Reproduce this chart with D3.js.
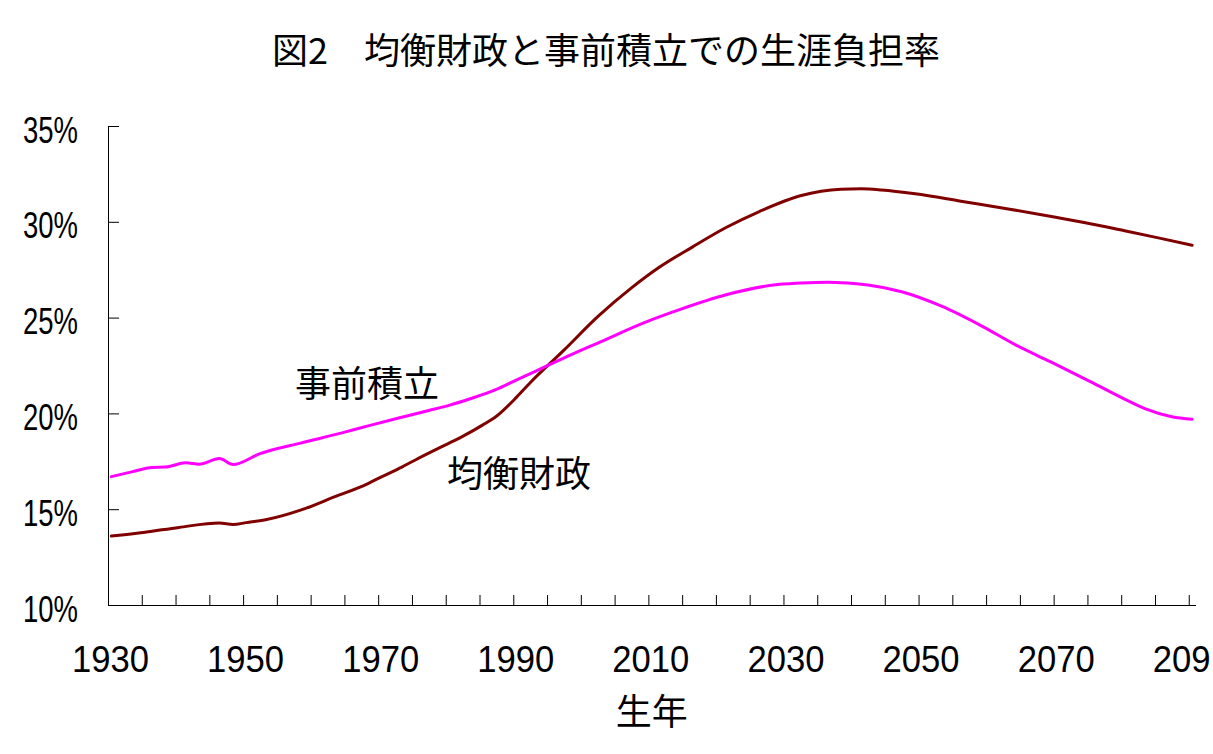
<!DOCTYPE html>
<html>
<head>
<meta charset="utf-8">
<script src="https://cdn.jsdelivr.net/npm/d3@7"></script>
<style>
  html, body { margin: 0; padding: 0; background: #ffffff; overflow: hidden; }
  svg { display: block; }
</style>
</head>
<body>
<svg id="chart" width="1213" height="754"></svg>
<script>
// ---- Data ----
const titleText = "図2　均衡財政と事前積立での生涯負担率";
const xAxisTitle = "生年";
const seriesNames = ["均衡財政", "事前積立"];

// 均衡財政 (balanced budget)
const balancedYears = [1930, 1935, 1940, 1946, 1948, 1950, 1953, 1958, 1963, 1968, 1970, 1973, 1975, 1980, 1982, 1985, 1987, 1990, 1992, 1997, 2002, 2007, 2011, 2016, 2021, 2026, 2032, 2038, 2041, 2044, 2049, 2056, 2063, 2070, 2074, 2080, 2085, 2090];
const balancedValues = [13.6, 13.8, 14.05, 14.28, 14.2, 14.3, 14.46, 14.95, 15.64, 16.34, 16.69, 17.2, 17.57, 18.45, 18.8, 19.4, 19.85, 20.85, 21.6, 23.3, 25.05, 26.55, 27.6, 28.68, 29.7, 30.55, 31.36, 31.7, 31.72, 31.66, 31.46, 31.06, 30.66, 30.22, 29.96, 29.53, 29.16, 28.78];

// 事前積立 (pre-funding)
const fundedYears = [1930, 1933, 1936, 1938, 1941, 1943, 1946, 1948, 1952, 1958, 1964, 1968, 1973, 1977, 1980, 1983, 1987, 1990, 1994, 1998, 2002, 2009, 2014, 2021, 2028, 2032, 2036, 2039, 2042, 2047, 2053, 2059, 2064, 2069, 2075, 2080, 2083, 2087, 2090];
const fundedValues = [16.7, 16.95, 17.18, 17.2, 17.42, 17.35, 17.64, 17.33, 17.9, 18.45, 18.97, 19.35, 19.8, 20.15, 20.42, 20.75, 21.25, 21.75, 22.4, 23.05, 23.67, 24.75, 25.4, 26.19, 26.7, 26.8, 26.85, 26.8, 26.7, 26.35, 25.58, 24.53, 23.55, 22.7, 21.65, 20.75, 20.25, 19.83, 19.7];

const yTicks = [10, 15, 20, 25, 30, 35];
const xMinorTicks = d3.range(1930, 2091, 5);
const xLabelYears = [1930, 1950, 1970, 1990, 2010, 2030, 2050, 2070, 2090];
// the last label is shown truncated at the picture's edge, as in the original
const xLabelTexts = ["1930", "1950", "1970", "1990", "2010", "2030", "2050", "2070", "209"];

// ---- Layout ----
const svg = d3.select("#chart");
const plotLeft = 108, plotRight = 1195.5, plotTop = 126, plotBottom = 605;

const x = d3.scaleLinear().domain([1930, 2091]).range([plotLeft, plotRight]);
const y = d3.scaleLinear().domain([10, 35]).range([plotBottom, plotTop]);

const numFont = "'Liberation Sans', Arial, sans-serif";
const cjkFont = "'Noto Sans CJK JP', 'Noto Sans CJK SC', sans-serif";

// Title
svg.append("text")
  .attr("x", 606).attr("y", 64)
  .attr("text-anchor", "middle")
  .attr("font-family", cjkFont)
  .attr("font-size", 36)
  .attr("fill", "#000")
  .text(titleText);

// X axis
const xAxis = d3.axisBottom(x)
  .tickValues(xMinorTicks)
  .tickSizeInner(-10)
  .tickSizeOuter(0)
  .tickFormat(d => {
    const i = xLabelYears.indexOf(d);
    return i >= 0 ? xLabelTexts[i] : "";
  });
const gx = svg.append("g").attr("transform", `translate(0,${plotBottom})`).call(xAxis);
gx.select(".domain").attr("stroke", "#000");
gx.selectAll(".tick line").attr("stroke", "#000");
gx.selectAll(".tick text")
  .attr("y", 67).attr("dy", null).attr("dx", 2)
  .attr("font-family", numFont).attr("font-size", 37)
  .attr("fill", "#000")
  .each(function(d) {
    const i = xLabelYears.indexOf(d);
    if (i < 0) return;
    const t = xLabelTexts[i];
    const sel = d3.select(this)
      .attr("textLength", 77 * t.length / 4)
      .attr("lengthAdjust", "spacingAndGlyphs");
    if (t.length < 4) sel.attr("text-anchor", "start").attr("dx", -36.5);
  });

// Y axis
const yAxis = d3.axisLeft(y)
  .tickValues(yTicks)
  .tickSizeInner(-11)
  .tickSizeOuter(0)
  .tickPadding(30)
  .tickFormat(d => d + "%");
const gy = svg.append("g").attr("transform", `translate(${plotLeft},0)`).call(yAxis);
gy.select(".domain").attr("stroke", "#000");
gy.selectAll(".tick line").attr("stroke", "#000");
gy.selectAll(".tick text")
  .attr("dy", null).attr("y", 16)
  .attr("font-family", numFont).attr("font-size", 37)
  .attr("fill", "#000")
  .attr("textLength", 55).attr("lengthAdjust", "spacingAndGlyphs");

// Lines (category centers => year + 0.5)
const line = d3.line()
  .x(d => x(d[0] + 0.5))
  .y(d => y(d[1]))
  .curve(d3.curveMonotoneX);

const balanced = balancedYears.map((yr, i) => [yr, balancedValues[i]]);
const funded = fundedYears.map((yr, i) => [yr, fundedValues[i]]);

svg.append("path").datum(balanced)
  .attr("d", line).attr("fill", "none")
  .attr("stroke", "#800000").attr("stroke-width", 3)
  .attr("stroke-linejoin", "round").attr("stroke-linecap", "round");

svg.append("path").datum(funded)
  .attr("d", line).attr("fill", "none")
  .attr("stroke", "#ff00ff").attr("stroke-width", 3)
  .attr("stroke-linejoin", "round").attr("stroke-linecap", "round");

// Series labels
svg.append("text")
  .attr("x", 295).attr("y", 397)
  .attr("font-family", cjkFont).attr("font-size", 36).attr("fill", "#000")
  .text(seriesNames[1]);
svg.append("text")
  .attr("x", 447).attr("y", 487)
  .attr("font-family", cjkFont).attr("font-size", 36).attr("fill", "#000")
  .text(seriesNames[0]);

// X axis title
svg.append("text")
  .attr("x", (plotLeft + plotRight) / 2).attr("y", 725)
  .attr("text-anchor", "middle")
  .attr("font-family", cjkFont).attr("font-size", 36).attr("fill", "#000")
  .text(xAxisTitle);
</script>
</body>
</html>
